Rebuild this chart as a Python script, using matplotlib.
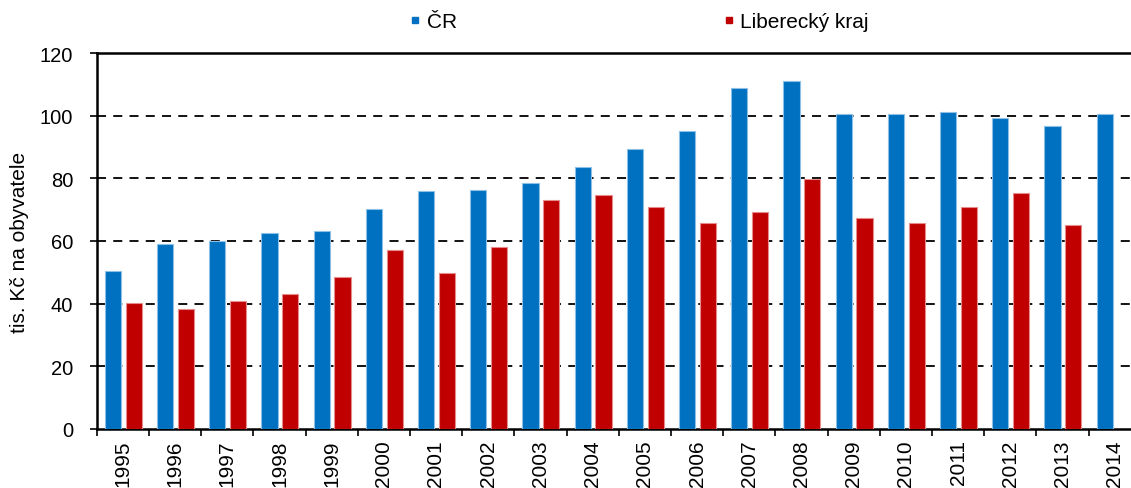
import matplotlib
matplotlib.use("Agg")
import matplotlib.pyplot as plt
from matplotlib.lines import Line2D
import numpy as np

plt.rcParams['font.family'] = ['Liberation Sans', 'DejaVu Sans']

years = ["1995", "1996", "1997", "1998", "1999", "2000", "2001", "2002", "2003", "2004",
         "2005", "2006", "2007", "2008", "2009", "2010", "2011", "2012", "2013", "2014"]
cr = [50.4, 59.0, 60.0, 62.6, 63.2, 70.2, 76.0, 76.3, 78.5, 83.6,
      89.4, 95.1, 108.8, 111.1, 100.5, 100.5, 101.2, 99.3, 96.7, 100.5]
liberec = [40.2, 38.3, 40.9, 43.1, 48.5, 57.1, 49.8, 58.1, 73.1, 74.7,
           70.9, 65.8, 69.3, 79.8, 67.3, 65.8, 70.9, 75.3, 65.1, np.nan]
series_names = ["ČR", "Liberecký kraj"]
yticks = [0, 20, 40, 60, 80, 100, 120]

blue = "#0070C0"
red = "#C00000"

W, H = 1131, 489
fig = plt.figure(figsize=(W / 100, H / 100), dpi=100)
left, right, bottom, top = 96.7, 96.7 + 52.2 * 20, 430, 54
ax = fig.add_axes([left / W, 1 - bottom / H, (right - left) / W, (bottom - top) / H])

x = np.arange(len(years))
bw = 0.31
ax.bar(x + 0.31, cr, width=bw, color=blue, edgecolor="#8cc0e6", linewidth=0.8, zorder=3)
ax.bar(x + 0.71, liberec, width=bw, color=red, edgecolor="#e68c8c", linewidth=0.8, zorder=3)

fs = 14.5
ax.set_xlim(0, len(years))
ax.set_ylim(0, 120)
ax.set_yticks(yticks)
ax.set_yticklabels([str(v) for v in yticks], fontsize=fs)
ax.set_xticks(x + 0.5)
ax.set_xticklabels(years, rotation=90, fontsize=15)
ax.set_xticks(np.arange(len(years) + 1), minor=True)
ax.tick_params(axis='x', which='major', length=0, pad=7.5)
ax.tick_params(axis='x', which='minor', length=5, width=1.2, direction='out')
ax.tick_params(axis='y', length=5, width=1.2, direction='out', pad=12)

for v in yticks[1:-1]:
    ax.axhline(v, color="black", linestyle=(0, (5, 4)), linewidth=1.3, zorder=1)

for s in ["left", "bottom", "top"]:
    ax.spines[s].set_color("black")
    ax.spines[s].set_linewidth(1.8)
ax.spines["right"].set_visible(False)

ax.set_ylabel("tis. Kč na obyvatele", fontsize=15, labelpad=8)

handles = [Line2D([0], [0], marker='s', linestyle='none', color=blue, markersize=5),
           Line2D([0], [0], marker='s', linestyle='none', color=red, markersize=5)]
fig.legend(handles, series_names, loc='center', bbox_to_anchor=(639.5 / W, 1 - 23 / H),
           ncol=2, frameon=False, fontsize=15, handlelength=0.5, handletextpad=0.3,
           columnspacing=12.8)

fig.savefig("out.png", dpi=100)
